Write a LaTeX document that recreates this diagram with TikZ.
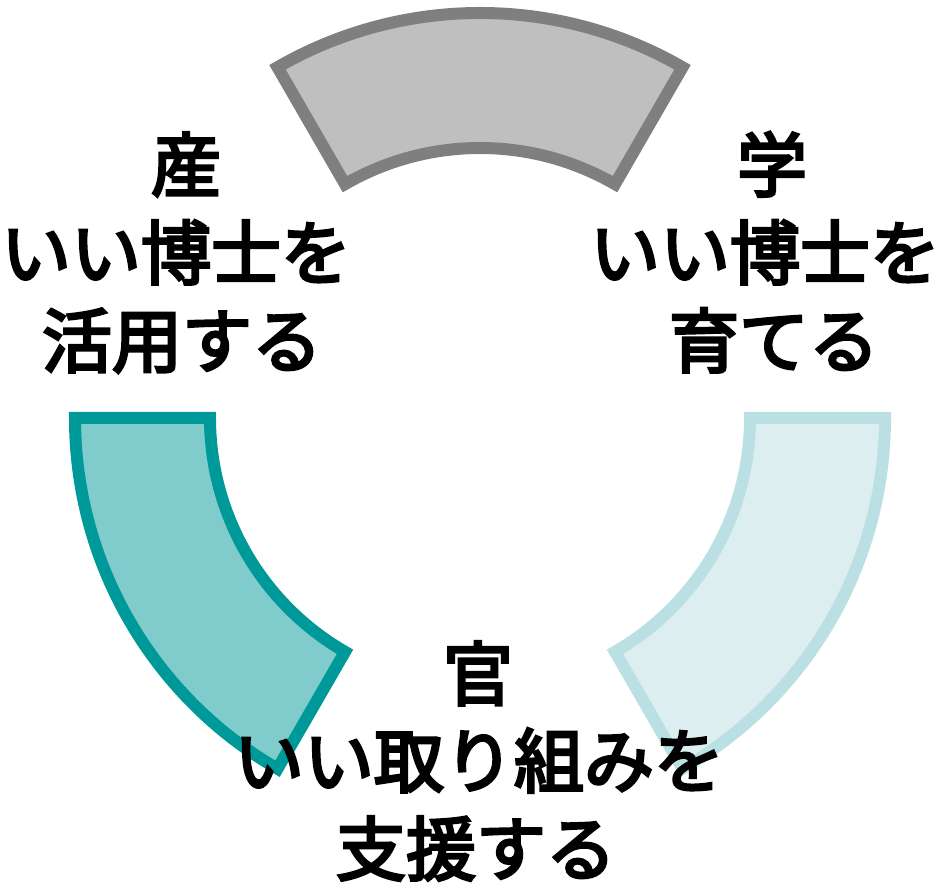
\documentclass[tikz,border=0pt]{standalone}
\usepackage{fontspec}
\newfontfamily\jpfont[FakeBold=4]{Noto Sans CJK JP}
\usetikzlibrary{calc}
\definecolor{grayfill}{HTML}{BFBFBF}
\definecolor{grayline}{HTML}{7F7F7F}
\definecolor{tealfill}{HTML}{80CBCB}
\definecolor{tealline}{HTML}{009999}
\definecolor{palefill}{HTML}{DDEEF1}
\definecolor{paleline}{HTML}{BBE0E3}
\tikzset{
  sector/.style={line width=12pt, line join=miter},
  lbl/.style={font=\jpfont\fontsize{70pt}{88pt}\selectfont, inner sep=0pt, anchor=base, text=black}
}
\begin{document}
\begin{tikzpicture}[x=1pt,y=1pt]
\useasboundingbox (0,0) rectangle (949,885);
\coordinate (c) at (480,467);
% top sector
\draw[sector, fill=grayfill, draw=grayline]
  ($(c)+(60:405pt)$) arc[start angle=60, end angle=120, radius=405pt]
  -- ($(c)+(120:270pt)$) arc[start angle=120, end angle=60, radius=270pt] -- cycle;
% left sector
\draw[sector, fill=tealfill, draw=tealline]
  ($(c)+(180:405pt)$) arc[start angle=180, end angle=240, radius=405pt]
  -- ($(c)+(240:270pt)$) arc[start angle=240, end angle=180, radius=270pt] -- cycle;
% right sector
\draw[sector, fill=palefill, draw=paleline]
  ($(c)+(300:405pt)$) arc[start angle=300, end angle=360, radius=405pt]
  -- ($(c)+(360:270pt)$) arc[start angle=360, end angle=300, radius=270pt] -- cycle;
% left text
\node[lbl] (l1) at (186,694) {産};
\node[lbl] (l2) at (176,606) {いい博士を};
\node[lbl] (l3) at (182,518) {活用する};
% right text
\node[lbl] (r1) at (772,694) {学};
\node[lbl] (r2) at (765,606) {いい博士を};
\node[lbl] (r3) at (774,518) {育てる};
% bottom text
\node[lbl] (b1) at (478,185) {官};
\node[lbl] (b2) at (479,98) {いい取り組みを};
\node[lbl] (b3) at (476,10) {支援する};
\end{tikzpicture}
\end{document}
